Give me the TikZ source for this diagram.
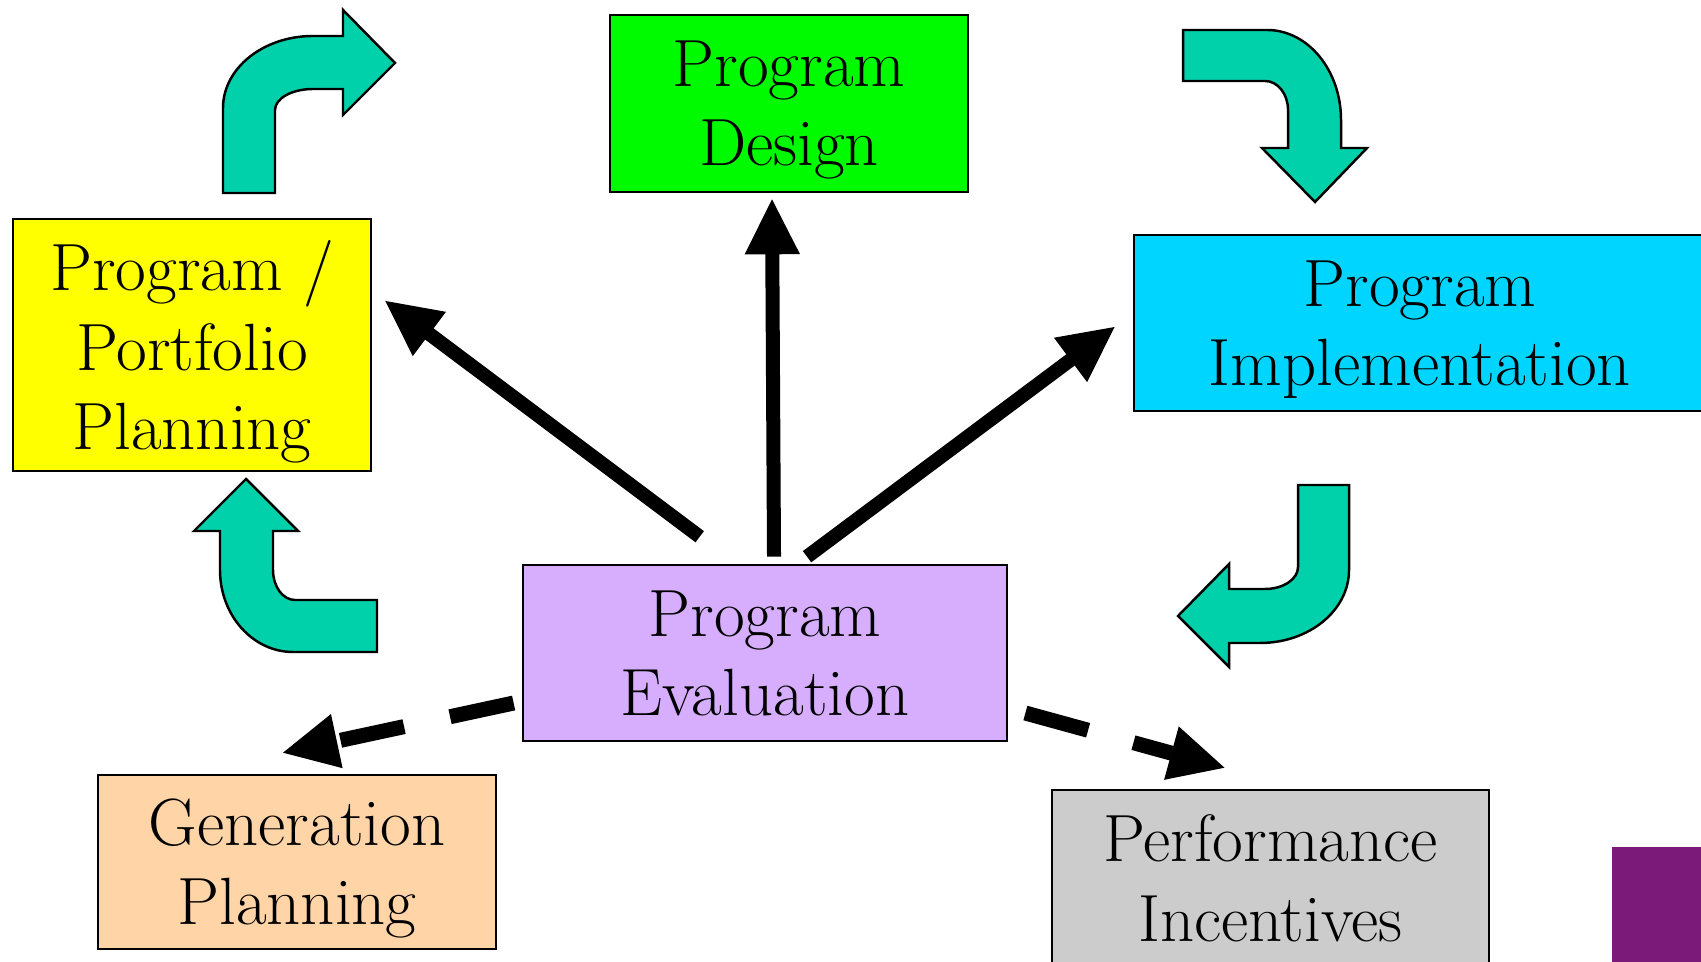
\documentclass[tikz,border=0pt]{standalone}
\usetikzlibrary{arrows.meta}

\definecolor{plancol}{RGB}{255,255,0}
\definecolor{designcol}{RGB}{0,250,0}
\definecolor{implcol}{RGB}{0,213,255}
\definecolor{evalcol}{RGB}{214,174,253}
\definecolor{gencol}{RGB}{255,213,168}
\definecolor{perfcol}{RGB}{204,204,204}
\definecolor{bendteal}{RGB}{0,209,170}
\definecolor{cornerpurple}{RGB}{123,26,120}

\begin{document}
\begin{tikzpicture}[x=0.01cm,y=-0.01cm,
	box/.style={draw,line width=0.7pt,align=center,inner sep=0pt,text depth=0pt,font=\fontsize{19}{22.5}\selectfont},
	fat/.style={line width=0.14cm,line cap=butt,-{Triangle[length=0.55cm,width=0.55cm,line width=0.4pt]}},
	fatdash/.style={fat,line width=0.15cm,dash pattern=on 0.65cm off 0.47cm},
	bentarrow/.style={fill=bendteal,draw=black,line width=0.7pt,line join=miter}]
				\useasboundingbox (0,0) rectangle (1701,962);
				\clip (0,0) rectangle (1701,962);
				% boxes
				\node[box, fill=plancol, minimum width=3.58cm, minimum height=2.52cm] (plan) at (192,345) {Program /\\Portfolio\\Planning};
				\node[box, fill=designcol, minimum width=3.58cm, minimum height=1.77cm] (design) at (789,103.5) {Program\\Design};
				\node[box, fill=implcol, minimum width=5.72cm, minimum height=1.76cm] (impl) at (1420,323) {Program\\Implementation};
				\node[box, fill=evalcol, minimum width=4.84cm, minimum height=1.76cm] (eval) at (765,653) {Program\\Evaluation};
				\node[box, fill=gencol, minimum width=3.98cm, minimum height=1.74cm] (gen) at (297,862) {Generation\\Planning};
				\node[box, fill=perfcol, minimum width=4.37cm, minimum height=1.76cm] (perf) at (1270.5,878) {Performance\\Incentives};
				% feedback arrows
				\draw[fat] ([xshift=1.78cm,yshift=0.27cm]eval.north west) -- ([xshift=0.13cm,yshift=0.44cm]plan.east);
				\draw[fat] ([xshift=0.09cm,yshift=0.07cm]eval.north) -- ([xshift=-0.17cm,yshift=-0.06cm]design.south);
				\draw[fat] ([xshift=0.42cm,yshift=0.07cm]eval.north) -- ([xshift=-0.18cm,yshift=-0.04cm]impl.west);
				\draw[fatdash] ([xshift=-0.08cm,yshift=-0.50cm]eval.west) -- ([xshift=-0.14cm,yshift=0.21cm]gen.north);
				\draw[fatdash] ([xshift=0.17cm,yshift=-0.60cm]eval.east) -- ([xshift=-0.46cm,yshift=0.21cm]perf.north);
				% bent arrows of the cycle
				\draw[bentarrow] (223,193) -- (223,108) .. controls (223,68.2) and (263.3,36) .. (313,36) -- (343,36) -- (343,10)
					-- (395,63) -- (343,115) -- (343,89) -- (313,89) .. controls (292,89) and (275,98.4) .. (275,110) -- (275,193) -- cycle;
				\draw[bentarrow] (1183,30) -- (1267,30) .. controls (1307.9,30) and (1341,70.3) .. (1341,120) -- (1341,148) -- (1367,148)
					-- (1315,202) -- (1262,148) -- (1288,148) -- (1288,110) .. controls (1288,94) and (1277.7,81) .. (1265,81) -- (1183,81) -- cycle;
				\draw[bentarrow] (1298,485) -- (1349,485) -- (1349,570) .. controls (1349,610.3) and (1309.2,643) .. (1260,643) -- (1229,643) -- (1229,667)
					-- (1178,616) -- (1229,564) -- (1229,589) -- (1265,589) .. controls (1283.2,589) and (1298,579.2) .. (1298,567) -- cycle;
				\draw[bentarrow] (377,600) -- (295,600) .. controls (282.8,600) and (273,586.6) .. (273,570) -- (273,531) -- (298,531)
					-- (246,479) -- (194,531) -- (220,531) -- (220,570) .. controls (220,615.3) and (252.7,652) .. (293,652) -- (377,652) -- cycle;
				% corner mark
				\fill[cornerpurple] (1612,847) rectangle (1701,962);
			\end{tikzpicture}
\end{document}
